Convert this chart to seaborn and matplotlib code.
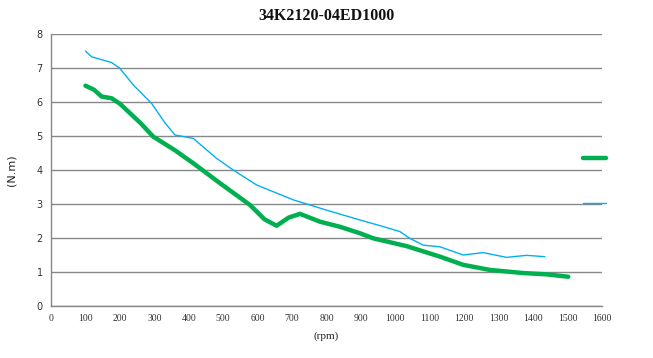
import matplotlib
matplotlib.use("Agg")
import matplotlib.pyplot as plt
import seaborn as sns
import pandas as pd
from matplotlib.lines import Line2D

rpm_green = [100, 125, 147, 176, 200, 220, 260, 297, 360, 413, 491, 578, 620, 655, 690, 723, 781, 839, 897, 936, 1033, 1130, 1197, 1275, 1371, 1440, 1502]
torque_green = [6.48, 6.36, 6.16, 6.11, 5.95, 5.76, 5.38, 4.98, 4.58, 4.2, 3.61, 2.97, 2.55, 2.36, 2.6, 2.71, 2.48, 2.33, 2.14, 1.99, 1.76, 1.45, 1.21, 1.06, 0.97, 0.93, 0.86]

rpm_blue = [100, 118, 176, 200, 239, 292, 330, 360, 413, 481, 529, 597, 704, 800, 897, 960, 1013, 1042, 1081, 1130, 1197, 1255, 1323, 1381, 1434]
torque_blue = [7.5, 7.33, 7.16, 6.99, 6.5, 5.96, 5.4, 5.03, 4.93, 4.34, 4.0, 3.56, 3.12, 2.82, 2.53, 2.35, 2.19, 1.99, 1.79, 1.74, 1.5, 1.57, 1.43, 1.49, 1.45]

x_ticks = list(range(0, 1601, 100))
y_ticks = list(range(0, 9))

sns.set_theme(style="white")
plt.rcParams['font.family'] = ['DejaVu Sans']

fig = plt.figure(figsize=(6.53, 3.58), dpi=100)
ax = fig.add_axes([51/653, (358-306)/358, (602-51)/653, (306-34)/358])

df_g = pd.DataFrame({"rpm": rpm_green, "torque": torque_green})
df_b = pd.DataFrame({"rpm": rpm_blue, "torque": torque_blue})
green = "#00B050"
blue = "#00B0F0"
sns.lineplot(data=df_g, x="rpm", y="torque", ax=ax, color=green, linewidth=3.2, sort=False,
             estimator=None, solid_joinstyle="round", solid_capstyle="round")
sns.lineplot(data=df_b, x="rpm", y="torque", ax=ax, color=blue, linewidth=1.0, sort=False,
             estimator=None, solid_joinstyle="round")

ax.set_xlim(0, 1600)
ax.set_ylim(0, 8)
ax.set_xticks(x_ticks)
ax.set_yticks(y_ticks)
ax.set_xticklabels([str(v) for v in x_ticks], fontsize=7, family="Liberation Serif")
ax.set_yticklabels([str(v) for v in y_ticks], fontsize=7)
ax.tick_params(axis='both', length=0, pad=6, colors="#333333")
ax.yaxis.grid(True, color="#888888", linewidth=1.0)
ax.xaxis.grid(False)
for s in ["top", "right"]:
    ax.spines[s].set_visible(False)
for s in ["left", "bottom"]:
    ax.spines[s].set_color("#888888")
    ax.spines[s].set_linewidth(1.0)
ax.set_axisbelow(True)

ax.set_xlabel("(rpm)", fontsize=8, family="Liberation Serif", labelpad=6, color="#222222")
ax.set_ylabel("(N.m)", fontsize=8, labelpad=14, color="#222222")
fig.text(327/653, 1 - 16/358, "34K2120-04ED1000", ha="center", va="center",
         fontsize=11.5, fontweight="bold", family="Liberation Serif", color="#111111")

handles = [Line2D([0], [0], color=green, lw=3.2), Line2D([0], [0], color=blue, lw=1.0)]
fig.legend(handles, ["", ""], loc="center left", bbox_to_anchor=(569/653, 1 - 181/358),
           frameon=False, handlelength=1.5, labelspacing=1.95, handletextpad=0)

fig.savefig("out.png", dpi=100)
